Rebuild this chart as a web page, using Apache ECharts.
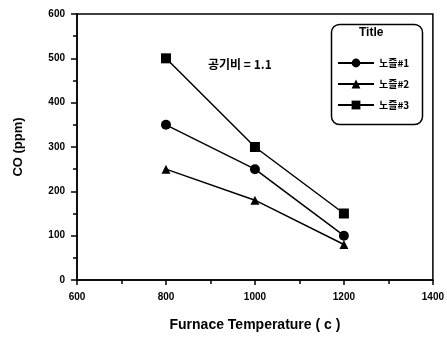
<!DOCTYPE html>
<html>
<head>
<meta charset="utf-8">
<script src="https://cdn.jsdelivr.net/npm/echarts@6/dist/echarts.min.js"></script>
<style>
  html, body { margin: 0; padding: 0; background: #fff; }
  #chart { width: 447px; height: 343px; }
</style>
</head>
<body>
<div id="chart"></div>
<script>
  // furnace temperature (c)
  var temps = [800, 1000, 1200]
  var names = ['노즐#1', '노즐#2', '노즐#3']
  var nozzle1 = [350, 250, 100]
  var nozzle2 = [250, 180, 80]
  var nozzle3 = [500, 300, 150]
  var symbols = ['circle', 'triangle', 'rect']
  var symbolSizes = [10, 9, 10]

  var font = '"Liberation Sans", Arial, sans-serif'
  var krFont = '"Noto Sans CJK KR", "Liberation Sans", sans-serif'

  function pairs(vals) {
    return temps.map(function (t, i) { return [t, vals[i]] })
  }

  var chart = echarts.init(document.getElementById('chart'))
  chart.setOption({
    animation: false,
    grid: {
      left: 77,
      right: 14,
      top: 14,
      bottom: 63,
      show: true,
      borderColor: '#000',
      borderWidth: 1.5
    },
    legend: {
      orient: 'vertical',
      left: 332,
      top: 53,
      itemWidth: 36,
      itemHeight: 11,
      itemGap: 11,
      data: names,
      textStyle: { fontFamily: krFont, fontWeight: 'bold', fontSize: 10, color: '#000' }
    },
    xAxis: {
      type: 'value',
      min: 600,
      max: 1400,
      interval: 200,
      name: 'Furnace Temperature ( c )',
      nameLocation: 'middle',
      nameGap: 38,
      nameTextStyle: { fontFamily: font, fontWeight: 'bold', fontSize: 14, color: '#000' },
      axisLine: { lineStyle: { color: '#000', width: 1.5 } },
      axisTick: { inside: false, length: 5, lineStyle: { color: '#000', width: 1.5 } },
      minorTick: { show: true, splitNumber: 2, length: 4, lineStyle: { color: '#000', width: 1.5 } },
      splitLine: { show: false },
      axisLabel: {
        fontFamily: font, fontWeight: 'bold', fontSize: 10, color: '#000', margin: 12,
        formatter: function (v) { return String(v) }
      }
    },
    yAxis: {
      type: 'value',
      min: 0,
      max: 600,
      interval: 100,
      name: 'CO (ppm)',
      nameLocation: 'middle',
      nameGap: 52,
      nameTextStyle: { fontFamily: font, fontWeight: 'bold', fontSize: 13, color: '#000' },
      axisLine: { show: true, lineStyle: { color: '#000', width: 1.5 } },
      axisTick: { length: 6, lineStyle: { color: '#000', width: 1.5 } },
      minorTick: { show: true, splitNumber: 2, length: 4, lineStyle: { color: '#000', width: 1.5 } },
      splitLine: { show: false },
      axisLabel: { fontFamily: font, fontWeight: 'bold', fontSize: 10, color: '#000', margin: 12 }
    },
    graphic: [
      {
        type: 'rect',
        left: 329,
        top: 22,
        shape: { width: 91, height: 100, r: 8 },
        style: { fill: 'none', stroke: '#000', lineWidth: 1.5 }
      },
      {
        type: 'text',
        left: 359,
        top: 27,
        style: { text: 'Title', fontFamily: font, fontWeight: 'bold', fontSize: 12, fill: '#000' }
      },
      {
        type: 'text',
        left: 208,
        top: 58,
        style: { text: '공기비 = 1.1', fontFamily: krFont, fontWeight: 'bold', fontSize: 12, fill: '#000' }
      }
    ],
    series: [nozzle1, nozzle2, nozzle3].map(function (vals, i) {
      return {
        name: names[i],
        type: 'line',
        data: pairs(vals),
        symbol: symbols[i],
        symbolSize: symbolSizes[i],
        lineStyle: { color: '#000', width: 1.5 },
        itemStyle: { color: '#000' }
      }
    })
  })
</script>
</body>
</html>
